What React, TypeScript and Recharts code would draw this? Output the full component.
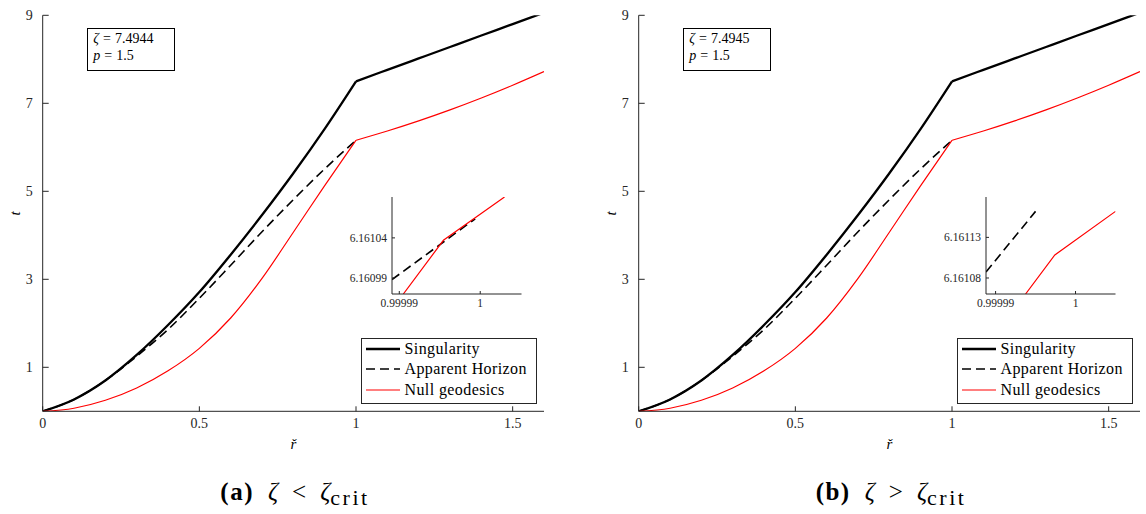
import React from 'react';
import { LineChart, Line, XAxis, YAxis, Legend } from 'recharts';

// main curves (both panels look the same at this scale)
const rInner = [0, 0.1, 0.2, 0.3, 0.4, 0.5, 0.6, 0.7, 0.8, 0.9, 1.0];
const singularityInner = [0, 0.27, 0.7, 1.28, 1.96, 2.71, 3.56, 4.46, 5.41, 6.42, 7.5];
const horizonInner = [0, 0.27, 0.7, 1.25, 1.86, 2.57, 3.32, 4.08, 4.81, 5.51, 6.16];
const nullInner = [0, 0.07, 0.25, 0.53, 0.92, 1.43, 2.12, 3.02, 4.07, 5.13, 6.16];
const rOuter = [1.0, 1.1, 1.2, 1.3, 1.4, 1.5, 1.6];
const singularityOuter = [7.5, 7.76, 8.02, 8.28, 8.54, 8.8, 9.06];
const nullOuter = [6.16, 6.37, 6.6, 6.85, 7.12, 7.41, 7.72];

const rTicks = [0, 0.5, 1, 1.5];
const tTicks = [1, 3, 5, 7, 9];

// zoomed insets around r = 1
const insetA_rHorizon = [0.9999891, 0.99999938];
const insetA_tHorizon = [6.160988, 6.1610638];
const insetA_rNull = [0.9999905, 0.99999545, 1.000003];
const insetA_tNull = [6.16097, 6.161037, 6.161091];
const insetA_rDomain = [0.9999891, 1.0000051];
const insetA_tDomain = [6.16097, 6.161091];
const insetA_rTicks = [0.99999, 1];
const insetA_tTicks = [6.16099, 6.16104];

const insetB_rHorizon = [0.9999888, 0.999995];
const insetB_tHorizon = [6.1610874, 6.161162];
const insetB_rNull = [0.99999375, 0.99999741, 1.000005];
const insetB_tNull = [6.1610603, 6.1611083, 6.161162];
const insetB_rDomain = [0.9999888, 1.000005];
const insetB_tDomain = [6.1610603, 6.1611797];
const insetB_rTicks = [0.99999, 1];
const insetB_tTicks = [6.16108, 6.16113];

const seriesNames = ['Singularity', 'Apparent Horizon', 'Null geodesics'];
const zetaValues = ['7.4944', '7.4945'];
const panelLetters = ['a', 'b'];
const comparators = ['<', '>'];

const axisColor = '#262626';
const serif = '"Liberation Serif", "DejaVu Serif", serif';

const seriesStyle: Record<string, { stroke: string; width: number; dash?: string }> = {
  Singularity: { stroke: '#000000', width: 2.3 },
  'Apparent Horizon': { stroke: '#000000', width: 1.6, dash: '9 5' },
  'Null geodesics': { stroke: '#ff0000', width: 1.2 },
};

const zip = (rs: number[], ts: number[]) => rs.map((r, i) => ({ r, t: ts[i] }));

const leftTick = (gap: number, len: number, size: number) => (props: any) => {
  const { x, y, payload } = props;
  return (
    <g>
      <line x1={x + gap} x2={x + gap + len} y1={y} y2={y} stroke={axisColor} />
      <text x={x} y={y} dy="0.34em" textAnchor="end" fontSize={size} fontFamily={serif} fill={axisColor}>
        {payload.value}
      </text>
    </g>
  );
};

const bottomTick = (gap: number, len: number, size: number) => (props: any) => {
  const { x, y, payload } = props;
  return (
    <g>
      <line x1={x} x2={x} y1={y - gap} y2={y - gap - len} stroke={axisColor} />
      <text x={x} y={y} dy="0.72em" textAnchor="middle" fontSize={size} fontFamily={serif} fill={axisColor}>
        {payload.value}
      </text>
    </g>
  );
};

const topTick = (len: number) => (props: any) => (
  <line x1={props.x} x2={props.x} y1={props.y} y2={props.y + len} stroke={axisColor} />
);

const rightTick = (len: number) => (props: any) => (
  <line x1={props.x} x2={props.x - len} y1={props.y} y2={props.y} stroke={axisColor} />
);

const LegendBox = () => (
  <div style={{ border: `1px solid ${axisColor}`, background: '#fff', padding: '0 4px 3px 4px', fontFamily: serif, fontSize: 16,
    letterSpacing: 0.4, color: '#000', width: 166 }}>
    {seriesNames.map((name) => {
      const s = seriesStyle[name];
      return (
        <div key={name} style={{ display: 'flex', alignItems: 'center', height: 20.5, whiteSpace: 'nowrap' }}>
          <svg width={34} height={10}>
            <line x1={0} x2={34} y1={5} y2={5} stroke={s.stroke} strokeWidth={s.width} strokeDasharray={s.dash} />
          </svg>
          <span style={{ marginLeft: 5 }}>{name}</span>
        </div>
      );
    })}
  </div>
);

interface InsetProps {
  left: number;
  rHorizon: number[];
  tHorizon: number[];
  rNull: number[];
  tNull: number[];
  rDomain: number[];
  tDomain: number[];
  rTicksIn: number[];
  tTicksIn: number[];
}

const Inset = ({ left, rHorizon, tHorizon, rNull, tNull, rDomain, tDomain, rTicksIn, tTicksIn }: InsetProps) => (
  <div style={{ position: 'absolute', left: left - 60, top: 187.3 }}>
    <LineChart width={199.5} height={132} margin={{ top: 10, right: 10, bottom: 0, left: 0 }}>
      <XAxis xAxisId="b" dataKey="r" type="number" domain={rDomain} ticks={rTicksIn} allowDataOverflow interval={0}
        height={25} tickSize={0} tickMargin={5} tick={bottomTick(5, 3, 11.5)} axisLine={{ stroke: axisColor }} tickLine={false} />
      <XAxis xAxisId="t" orientation="top" dataKey="r" type="number" domain={rDomain} ticks={rTicksIn} allowDataOverflow interval={0}
        height={0} tickSize={0} tickMargin={0} tick={topTick(3)} axisLine={{ stroke: axisColor }} tickLine={false} />
      <YAxis yAxisId="l" type="number" domain={tDomain} ticks={tTicksIn} allowDataOverflow interval={0}
        width={60} tickSize={0} tickMargin={5} tick={leftTick(5, 3, 11.5)} axisLine={{ stroke: axisColor }} tickLine={false} />
      <YAxis yAxisId="r" orientation="right" type="number" domain={tDomain} ticks={tTicksIn} allowDataOverflow interval={0}
        width={0} tickSize={0} tickMargin={0} tick={rightTick(3)} axisLine={{ stroke: axisColor }} tickLine={false} />
      <Line xAxisId="b" yAxisId="l" data={zip(rHorizon, tHorizon)} dataKey="t" type="linear" stroke="#000" strokeWidth={1.6}
        strokeDasharray="9 5" dot={false} isAnimationActive={false} />
      <Line xAxisId="b" yAxisId="l" data={zip(rNull, tNull)} dataKey="t" type="linear" stroke="#ff0000" strokeWidth={1.2}
        dot={false} isAnimationActive={false} />
    </LineChart>
  </div>
);

const tLabel = (props: any) => {
  const vb = props.viewBox || {};
  const cx = vb.x + 12.5;
  const cy = vb.y + vb.height / 2;
  return (
    <text x={cx} y={cy} dy="0.3em" textAnchor="middle" transform={`rotate(-90 ${cx} ${cy})`}
      fontSize={15} fontStyle="italic" fontFamily={serif} fill="#000">t</text>
  );
};

const Panel = ({ index }: { index: number }) => {
  const inset = index === 0
    ? { left: 391.7, rHorizon: insetA_rHorizon, tHorizon: insetA_tHorizon, rNull: insetA_rNull, tNull: insetA_tNull,
        rDomain: insetA_rDomain, tDomain: insetA_tDomain, rTicksIn: insetA_rTicks, tTicksIn: insetA_tTicks }
    : { left: 390, rHorizon: insetB_rHorizon, tHorizon: insetB_tHorizon, rNull: insetB_rNull, tNull: insetB_tNull,
        rDomain: insetB_rDomain, tDomain: insetB_tDomain, rTicksIn: insetB_rTicks, tTicksIn: insetB_tTicks };

  return (
    <div style={{ position: 'absolute', left: index * 596, top: 0, width: 586, height: 514 }}>
      <div style={{ position: 'absolute', left: 0, top: 0 }}>
        <LineChart width={560} height={460} margin={{ top: 15.3, right: 16, bottom: 8.7, left: 2.7 }}>
          <XAxis dataKey="r" type="number" domain={[0, 1.6]} ticks={rTicks} interval={0} allowDataOverflow
            height={40} tickSize={0} tickMargin={6.7} tick={bottomTick(6.7, 5, 14)} tickLine={false}
            axisLine={{ stroke: axisColor }}
            label={{ value: 'ř', position: 'insideBottom', offset: 2, fontSize: 15, fontStyle: 'italic', fontFamily: serif, fill: '#000' }} />
          <YAxis type="number" domain={[0, 9]} ticks={tTicks} interval={0} allowDataOverflow
            width={40} tickSize={0} tickMargin={10} tick={leftTick(10, 6, 14)} tickLine={false}
            axisLine={{ stroke: axisColor }} label={tLabel} />
          <Line name="Singularity" data={zip(rInner, singularityInner)} dataKey="t" type="monotone"
            stroke={seriesStyle.Singularity.stroke} strokeWidth={seriesStyle.Singularity.width} dot={false} isAnimationActive={false} />
          <Line name="Singularity (r > 1)" legendType="none" data={zip(rOuter, singularityOuter)} dataKey="t" type="monotone"
            stroke={seriesStyle.Singularity.stroke} strokeWidth={seriesStyle.Singularity.width} dot={false} isAnimationActive={false} />
          <Line name="Apparent Horizon" data={zip(rInner, horizonInner)} dataKey="t" type="monotone"
            stroke={seriesStyle['Apparent Horizon'].stroke} strokeWidth={seriesStyle['Apparent Horizon'].width}
            strokeDasharray={seriesStyle['Apparent Horizon'].dash} dot={false} isAnimationActive={false} />
          <Line name="Null geodesics" data={zip(rInner, nullInner)} dataKey="t" type="monotone"
            stroke={seriesStyle['Null geodesics'].stroke} strokeWidth={seriesStyle['Null geodesics'].width} dot={false} isAnimationActive={false} />
          <Line name="Null geodesics (r > 1)" legendType="none" data={zip(rOuter, nullOuter)} dataKey="t" type="monotone"
            stroke={seriesStyle['Null geodesics'].stroke} strokeWidth={seriesStyle['Null geodesics'].width} dot={false} isAnimationActive={false} />
          <Legend layout="vertical" align="center" verticalAlign="middle" content={<LegendBox />}
            wrapperStyle={{ left: 360.5, top: 337.5, width: 177, height: 'auto' }} />
        </LineChart>
      </div>

      <div style={{ position: 'absolute', left: 87.3, top: 27.7, width: 88, height: 43, boxSizing: 'border-box',
        border: '1px solid #000', background: '#fff', padding: '1px 5px', fontFamily: serif, fontSize: 14, lineHeight: '17px', color: '#000', whiteSpace: 'nowrap' }}>
        <div><i>ζ</i><span style={{ margin: '0 4px' }}>=</span>{zetaValues[index]}</div>
        <div><i>p</i><span style={{ margin: '0 4px' }}>=</span>1.5</div>
      </div>

      <Inset {...inset} />

      <div style={{ position: 'absolute', left: 2, top: 477, width: 586, textAlign: 'center', fontFamily: serif, fontSize: 25,
        lineHeight: '30px', color: '#000', whiteSpace: 'nowrap' }}>
        <b style={{ letterSpacing: 1.5 }}>({panelLetters[index]})</b>
        <i style={{ marginLeft: 14 }}>ζ</i>
        <span style={{ margin: '0 14px' }}>{comparators[index]}</span>
        <i>ζ</i>
        <span style={{ fontSize: 22, letterSpacing: 2.5, position: 'relative', top: 5 }}>crit</span>
      </div>
    </div>
  );
};

const App: React.FC = () => (
  <div style={{ position: 'absolute', left: 0, top: 0, width: 1146, height: 514, background: '#fff', overflow: 'hidden' }}>
    <Panel index={0} />
    <Panel index={1} />
  </div>
);

export default App;
